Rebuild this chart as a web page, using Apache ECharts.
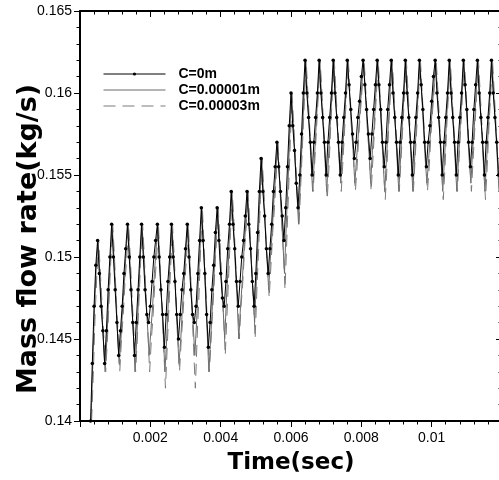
<!DOCTYPE html>
<html><head><meta charset="utf-8">
<script src="https://cdn.jsdelivr.net/npm/echarts@6/dist/echarts.min.js"></script>
<style>html,body{margin:0;padding:0;background:#fff}#c{width:499px;height:480px}</style>
</head><body><div id="c"></div>
<script>
const seriesNames = ['C=0m', 'C=0.00001m', 'C=0.00003m'];
const xTickLabels = ['0.002', '0.004', '0.006', '0.008', '0.01'];
const yTickLabels = ['0.14', '0.145', '0.15', '0.155', '0.16', '0.165'];
const xAxisTitle = 'Time(sec)';
const yAxisTitle = 'Mass flow rate(kg/s)';
// sampling grid of each time series (s): first sample time and step
const T_STEP = 0.00005;
const T_START_C0 = 0.0003, T_START_C1 = 0.000315, T_START_C3 = 0.00033;

// mass flow rate (kg/s), one value per sample
const flowC0 = [
0.140,0.1435,0.147,0.1495,0.151,
0.149,0.147,0.1455,0.1435,
0.1455,0.148,0.150,0.152,
0.150,0.148,0.146,0.144,
0.1455,0.147,0.149,0.1505,0.152,
0.150,0.148,0.146,0.144,
0.146,0.148,0.150,0.152,
0.150,0.148,0.1465,0.146,
0.147,0.1485,0.150,0.151,0.152,
0.150,0.148,0.1465,0.1445,
0.1465,0.1485,0.150,0.152,
0.150,0.1485,0.1465,0.145,
0.1465,0.148,0.149,0.1505,0.152,
0.150,0.148,0.1465,0.146,
0.147,0.149,0.151,0.153,
0.151,0.149,0.1465,0.1445,
0.146,0.148,0.1495,0.1515,0.153,
0.151,0.149,0.1475,0.147,
0.1485,0.1505,0.152,0.154,
0.152,0.1505,0.1485,0.147,
0.1485,0.150,0.151,0.1525,0.154,
0.152,0.1505,0.1485,0.147,
0.149,0.1515,0.154,0.156,
0.154,0.1525,0.1505,0.149,
0.1505,0.152,0.154,0.1555,0.157,
0.1555,0.154,0.1525,0.151,
0.153,0.1555,0.158,0.160,
0.158,0.1565,0.1545,0.153,
0.155,0.1575,0.160,0.162,
0.160,0.1585,0.157,0.155,
0.157,0.1585,0.160,0.162,
0.160,0.1585,0.157,0.155,
0.157,0.1585,0.160,0.162,
0.160,0.1585,0.157,0.155,
0.157,0.1585,0.160,0.162,
0.1605,0.159,0.1575,0.156,
0.157,0.1585,0.1595,0.161,0.162,
0.1605,0.159,0.1575,0.156,
0.1575,0.159,0.1605,0.162,
0.1605,0.159,0.157,0.1555,
0.157,0.159,0.1605,0.162,
0.160,0.1585,0.157,0.155,
0.157,0.1585,0.160,0.162,
0.160,0.1585,0.157,0.155,
0.157,0.1585,0.160,0.162,
0.1605,0.159,0.157,0.1555,
0.157,0.158,0.1595,0.161,0.162,
0.160,0.1585,0.157,0.155,
0.157,0.1585,0.160,0.162,
0.160,0.1585,0.157,0.155,
0.157,0.1585,0.160,0.162,
0.1605,0.159,0.157,0.1555,
0.157,0.159,0.1605,0.162,
0.160,0.1585,0.157,0.155,
0.157,0.1585,0.160,0.162,
0.160,0.1585,0.157,0.155
];
const flowC1 = [
0.140,0.1435,0.147,0.1495,0.151,
0.149,0.147,0.145,0.143,
0.145,0.1475,0.150,0.152,
0.150,0.148,0.1455,0.1435,
0.145,0.147,0.1485,0.1505,0.152,
0.150,0.1475,0.1455,0.143,
0.145,0.1475,0.150,0.152,
0.150,0.148,0.146,0.144,
0.1455,0.147,0.149,0.1505,0.152,
0.150,0.1475,0.1455,0.143,
0.145,0.1475,0.150,0.152,
0.150,0.148,0.1455,0.1435,
0.145,0.147,0.1485,0.1505,0.152,
0.150,0.148,0.146,0.144,
0.146,0.1485,0.1505,0.153,
0.1505,0.148,0.1455,0.143,
0.145,0.147,0.149,0.151,0.153,
0.151,0.149,0.147,0.145,
0.1475,0.1495,0.152,0.154,
0.152,0.1495,0.1475,0.145,
0.147,0.1485,0.1505,0.152,0.154,
0.152,0.150,0.148,0.146,
0.1485,0.151,0.1535,0.156,
0.154,0.152,0.150,0.148,
0.150,0.1515,0.1535,0.155,0.157,
0.155,0.153,0.151,0.149,
0.152,0.1545,0.1575,0.160,
0.158,0.156,0.154,0.152,
0.1545,0.157,0.1595,0.162,
0.160,0.158,0.156,0.154,
0.156,0.158,0.160,0.162,
0.160,0.158,0.156,0.154,
0.156,0.158,0.160,0.162,
0.160,0.158,0.156,0.1545,
0.1565,0.158,0.160,0.162,
0.160,0.158,0.1565,0.1545,
0.156,0.1575,0.159,0.1605,0.162,
0.160,0.158,0.1565,0.1545,
0.1565,0.158,0.160,0.162,
0.160,0.158,0.156,0.154,
0.156,0.158,0.160,0.162,
0.160,0.158,0.156,0.154,
0.156,0.158,0.160,0.162,
0.160,0.158,0.156,0.154,
0.156,0.158,0.160,0.162,
0.160,0.158,0.156,0.1545,
0.156,0.1575,0.159,0.1605,0.162,
0.160,0.158,0.156,0.154,
0.156,0.158,0.160,0.162,
0.160,0.158,0.156,0.154,
0.156,0.158,0.160,0.162,
0.160,0.158,0.156,0.1545,
0.1565,0.158,0.160,0.162,
0.160,0.158,0.156,0.154,
0.156,0.158,0.160,0.162,
0.160,0.158,0.156,0.154
];
const flowC3 = [
0.140,0.143,0.1465,0.149,0.151,
0.149,0.147,0.145,0.143,
0.145,0.1475,0.150,0.152,
0.150,0.1475,0.1455,0.143,
0.145,0.1465,0.1485,0.150,0.152,
0.150,0.1475,0.1455,0.143,
0.145,0.1475,0.150,0.152,
0.150,0.1475,0.1455,0.143,
0.145,0.1465,0.1485,0.150,0.152,
0.1495,0.147,0.1445,0.142,
0.1445,0.147,0.1495,0.152,
0.150,0.1475,0.1455,0.143,
0.145,0.1465,0.1485,0.150,0.152,
0.1495,0.147,0.1445,0.142,
0.145,0.1475,0.1505,0.153,
0.1505,0.148,0.1455,0.143,
0.145,0.147,0.149,0.151,0.153,
0.151,0.1485,0.1465,0.144,
0.1465,0.149,0.1515,0.154,
0.152,0.1495,0.1475,0.145,
0.147,0.1485,0.1505,0.152,0.154,
0.152,0.1495,0.1475,0.145,
0.148,0.1505,0.1535,0.156,
0.154,0.1515,0.1495,0.1475,
0.1495,0.1515,0.153,0.155,0.157,
0.155,0.1525,0.1505,0.148,
0.151,0.154,0.157,0.160,
0.158,0.156,0.154,0.152,
0.1545,0.157,0.1595,0.162,
0.160,0.158,0.156,0.154,
0.156,0.158,0.160,0.162,
0.160,0.158,0.1555,0.1535,
0.1555,0.158,0.160,0.162,
0.160,0.158,0.156,0.154,
0.156,0.158,0.160,0.162,
0.160,0.158,0.156,0.154,
0.1555,0.1575,0.159,0.1605,0.162,
0.160,0.158,0.156,0.154,
0.156,0.158,0.160,0.162,
0.160,0.158,0.1555,0.1535,
0.1555,0.158,0.160,0.162,
0.160,0.158,0.156,0.154,
0.156,0.158,0.160,0.162,
0.160,0.158,0.156,0.154,
0.156,0.158,0.160,0.162,
0.160,0.158,0.156,0.154,
0.1555,0.1575,0.159,0.1605,0.162,
0.160,0.158,0.1555,0.1535,
0.1555,0.158,0.160,0.162,
0.160,0.158,0.156,0.154,
0.156,0.158,0.160,0.162,
0.160,0.158,0.156,0.154,
0.156,0.158,0.160,0.162,
0.160,0.158,0.1555,0.1535,
0.1555,0.158,0.160,0.162,
0.160,0.158,0.156,0.154
];

function toPairs(vals, start) {
  return vals.map((v, i) => [+(start + i * T_STEP).toFixed(6), v]);
}
function labelFrom(list) {
  return function (val) {
    const hit = list.find(s => Math.abs(parseFloat(s) - val) < 1e-9);
    return hit || '';
  };
}

const axisLineStyle = { color: '#000', width: 2 };
const tickFont = { color: '#000', fontFamily: 'Liberation Sans, Arial', fontSize: 14 };
const nameFont = { color: '#000', fontFamily: 'DejaVu Sans', fontWeight: 'bold' };

const chart = echarts.init(document.getElementById('c'), null, { renderer: 'canvas' });
chart.setOption({
  animation: false,
  backgroundColor: '#fff',
  grid: { left: 80, right: -3, top: 11, bottom: 59, containLabel: false, outerBoundsMode: 'none' },
  legend: {
    orient: 'vertical', left: 103, top: 67, padding: 0,
    itemWidth: 62, itemHeight: 4, itemGap: 2,
    selectedMode: false,
    textStyle: { color: '#000', fontFamily: 'Liberation Sans, Arial', fontWeight: 'bold', fontSize: 14, padding: [0, 0, 0, 8] },
    data: [
      { name: seriesNames[0], lineStyle: { width: 1 } },
      { name: seriesNames[1], lineStyle: { width: 1 }, itemStyle: { opacity: 0 } },
      { name: seriesNames[2], lineStyle: { width: 1 }, itemStyle: { opacity: 0 } }
    ]
  },
  xAxis: [
    {
      type: 'value', position: 'bottom', min: 0, max: 0.012, interval: 0.002,
      axisLine: { onZero: false, lineStyle: axisLineStyle },
      axisTick: { inside: false, length: 6, lineStyle: { color: '#000', width: 1 } },
      minorTick: { show: true, splitNumber: 5, length: 3.5, lineStyle: { color: '#000', width: 1 } },
      splitLine: { show: false }, minorSplitLine: { show: false },
      axisLabel: Object.assign({ margin: 10, formatter: labelFrom(xTickLabels), showMinLabel: false, showMaxLabel: false }, tickFont),
      name: xAxisTitle, nameLocation: 'middle', nameGap: 31, nameMoveOverlap: false,
      nameTextStyle: Object.assign({ fontSize: 23 }, nameFont)
    },
    {
      type: 'value', position: 'top', min: 0, max: 0.012, interval: 0.002,
      axisLine: { onZero: false, lineStyle: axisLineStyle },
      axisTick: { inside: true, length: 6, lineStyle: { color: '#000', width: 1 } },
      minorTick: { show: true, splitNumber: 5, length: 3.5, lineStyle: { color: '#000', width: 1 } },
      splitLine: { show: false }, axisLabel: { show: false }
    }
  ],
  yAxis: [
    {
      type: 'value', position: 'left', min: 0.14, max: 0.165, interval: 0.005,
      axisLine: { onZero: false, lineStyle: axisLineStyle },
      axisTick: { inside: false, length: 6, lineStyle: { color: '#000', width: 1 } },
      minorTick: { show: true, splitNumber: 5, length: 3.5, lineStyle: { color: '#000', width: 1 } },
      splitLine: { show: false }, minorSplitLine: { show: false },
      axisLabel: Object.assign({ margin: 8, formatter: labelFrom(yTickLabels) }, tickFont),
      name: yAxisTitle, nameLocation: 'middle', nameGap: 38, nameMoveOverlap: false,
      nameTextStyle: Object.assign({ fontSize: 27, padding: [0, 46, 0, 0] }, nameFont)
    },
    {
      type: 'value', position: 'right', min: 0.14, max: 0.165, interval: 0.005,
      axisLine: { onZero: false, lineStyle: axisLineStyle },
      axisTick: { inside: true, length: 6, lineStyle: { color: '#000', width: 1 } },
      minorTick: { show: true, splitNumber: 5, length: 3.5, lineStyle: { color: '#000', width: 1 } },
      splitLine: { show: false }, axisLabel: { show: false }
    }
  ],
  series: [
    {
      name: seriesNames[0], type: 'line', xAxisIndex: 0, yAxisIndex: 0,
      data: toPairs(flowC0, T_START_C0), symbol: 'circle', symbolSize: 3.5, showSymbol: true,
      lineStyle: { color: '#000', width: 1 }, itemStyle: { color: '#000' }, z: 5
    },
    {
      name: seriesNames[1], type: 'line', xAxisIndex: 0, yAxisIndex: 0,
      data: toPairs(flowC1, T_START_C1), symbol: 'none',
      lineStyle: { color: '#6a6a6a', width: 1 }, itemStyle: { color: '#6a6a6a' }, z: 3
    },
    {
      name: seriesNames[2], type: 'line', xAxisIndex: 0, yAxisIndex: 0,
      data: toPairs(flowC3, T_START_C3), symbol: 'none',
      lineStyle: { color: '#7a7a7a', width: 1, type: [12, 7] }, itemStyle: { color: '#7a7a7a' }, z: 4
    }
  ]
});
</script>
</body></html>
